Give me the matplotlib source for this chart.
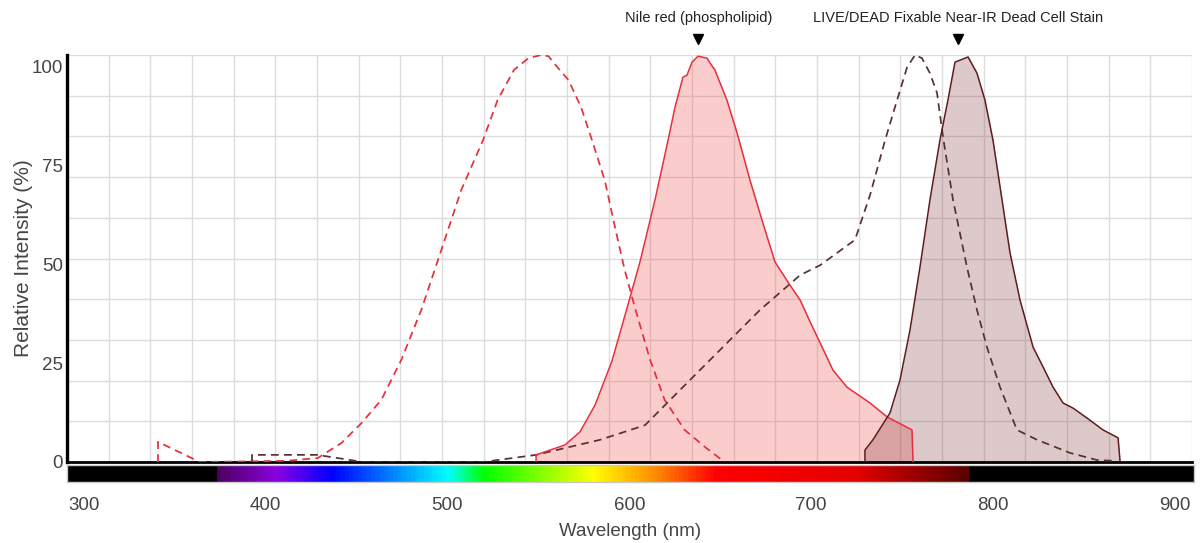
import numpy as np
import matplotlib.pyplot as plt
from matplotlib.colors import LinearSegmentedColormap

plt.rcParams['font.family'] = ['Liberation Sans', 'DejaVu Sans']

# Nile red (phospholipid) excitation, dashed
nile_ex_nm = [341, 341, 364, 412, 429, 442, 453, 464, 475, 486, 497, 508, 520, 528, 537,
              545, 552, 556, 561, 567, 574, 580, 587, 593, 598, 604, 612, 620, 631, 643, 653]
nile_ex_val = [0, 5.1, 0, 0.3, 1.0, 4.8, 9.8, 15.7, 25.8, 38.4, 53.5, 68.7, 81.3, 91.4, 99,
               102, 102.8, 102.5, 99.7, 96.5, 89.6, 81.3, 71.2, 58.6, 48.5, 38.4, 25.8, 15.7, 8.1, 3.5, 0]

# Nile red emission, filled
nile_em_nm = [549.2, 549.2, 565.1, 573.4, 581.7, 591.0, 598.2, 606.4, 614.7, 621.9, 625.7, 630.1,
              632.3, 635.1, 638.4, 643.3, 645.0, 646.6, 647.7, 654.3, 659.9, 667.0, 673.6, 680.8,
              689.0, 694.6, 700.1, 705.6, 712.7, 720.4, 733.1, 742.5, 756.2, 756.8]
nile_em_val = [0, 1.8, 4.3, 7.6, 14.4, 25.5, 37.1, 50.5, 66.2, 81.3, 89.6, 97.2,
               97.7, 101, 102.5, 102, 100.8, 99.7, 99, 91.4, 83.1, 71.2, 61.1, 50.5,
               44.7, 40.9, 35.4, 30.1, 23.2, 18.9, 14.9, 11.4, 8.1, 0]

# LIVE/DEAD Fixable Near-IR excitation, dashed
ld_ex_nm = [392.8, 392.8, 428.6, 453.9, 520, 549.2, 584.4, 609.2, 628.5, 650.5, 672.5, 694.6,
            705.6, 724.8, 733.1, 741.4, 748, 753.5, 757.9, 761.7, 766.1, 770, 773.3, 778.8,
            786.5, 792.0, 797.5, 804.7, 814, 825.1, 843.2, 858.1, 866.9]
ld_ex_val = [0, 1.8, 1.8, 0, 0, 1.8, 5.6, 9.3, 18.2, 28.3, 38.4, 47.2,
             49.7, 56.1, 67.4, 81.3, 91.4, 99.7, 102.8, 102, 98.2, 93.2, 82.1, 66.2,
             49.2, 38.4, 29.0, 18.9, 8.1, 5.6, 2.3, 0.5, 0.3]

# LIVE/DEAD Fixable Near-IR emission, filled
ld_em_nm = [730.3, 730.3, 734.7, 744.1, 749.6, 755.1, 760.6, 766.1, 771.6, 776.0, 779.9, 787.1,
            792.0, 796.4, 800.8, 805.8, 810.2, 815.7, 822.9, 828.4, 833.9, 839.4, 844.9, 852.6,
            861.4, 869.7, 870.8]
ld_em_val = [0, 3.0, 5.6, 12.4, 20.7, 33.3, 49.2, 66.2, 81.3, 91.4, 101, 102.3,
             98.2, 91.4, 81.3, 66.2, 52.8, 40.9, 29.0, 24.0, 18.9, 14.9, 13.6, 11.1,
             8.1, 6.1, 0]

peak_names = ['Nile red (phospholipid)', 'LIVE/DEAD Fixable Near-IR Dead Cell Stain']
peak_nm = [638.5, 781.5]

x_ticks = [300, 400, 500, 600, 700, 800, 900]
y_ticks = [0, 25, 50, 75, 100]

XLO, XHI = 290.9, 910.4
YTOP = 102.8
W, H = 1202, 543

fig = plt.figure(figsize=(W / 100, H / 100), dpi=100)
ax = fig.add_axes([67 / W, 1 - 462 / H, 1125 / W, 407 / H])
ax.set_xlim(XLO, XHI)
ax.set_ylim(0, YTOP)

# square-ish background grid, not tied to tick values
ax.set_xticks(np.linspace(XLO, XHI, 28), minor=True)
ax.set_yticks(np.linspace(0, YTOP, 11), minor=True)
ax.grid(which='minor', color='#dddddd', lw=1)
ax.set_axisbelow(True)
ax.set_xticks([])
ax.set_yticks(y_ticks)
ax.set_yticklabels([str(v) for v in y_ticks])
ax.tick_params(axis='y', which='both', length=0, pad=3, labelsize=13.5, labelcolor='#444444')
ax.tick_params(axis='x', which='both', length=0)

for s in ['top', 'right']:
    ax.spines[s].set_visible(False)
ax.spines['left'].set_linewidth(2.4)
ax.spines['bottom'].set_linewidth(2.0)
ax.spines['left'].set_color('black')
ax.spines['bottom'].set_color('black')

red = '#e5303c'
maroon = '#5e1c1c'
ax.fill_between(nile_em_nm, nile_em_val, color='#f04848', alpha=0.28, lw=0, zorder=1)
ax.fill_between(ld_em_nm, ld_em_val, color='#7a2a2a', alpha=0.25, lw=0, zorder=1)
ax.plot(nile_ex_nm, nile_ex_val, color=red, lw=1.25, ls=(0, (4.5, 3)), zorder=3)
ax.plot(ld_ex_nm, ld_ex_val, color='#5a3030', lw=1.25, ls=(0, (4.5, 3)), zorder=3)
ax.plot(nile_em_nm, nile_em_val, color=red, lw=1.1, zorder=4)
ax.plot(ld_em_nm, ld_em_val, color=maroon, lw=1.1, zorder=4)

for name, nm in zip(peak_names, peak_nm):
    ax.plot([nm], [106.8], marker='v', ms=7, color='black', clip_on=False, zorder=5)
    ax.text(nm, 112.1, name, ha='center', va='center', fontsize=10.5, color='#222222',
            clip_on=False)

ax.set_ylabel('Relative Intensity (%)', fontsize=15, color='#444444', labelpad=-1)

# visible spectrum strip under the axis
stops = [(XLO, (0, 0, 0)), (373, (0, 0, 0)), (373.5, (0.30, 0, 0.38)),
         (405, (0.55, 0, 0.88)), (436, (0, 0, 1)), (500, (0, 1, 1)), (520, (0, 1, 0)),
         (580, (1, 1, 0)), (614, (1, 0.55, 0)), (648, (1, 0, 0)), (725, (0.9, 0, 0)),
         (787, (0.35, 0, 0)), (787.5, (0, 0, 0)), (XHI, (0, 0, 0))]
spec = LinearSegmentedColormap.from_list(
    'spec', [((p - XLO) / (XHI - XLO), c) for p, c in stops])
bax = fig.add_axes([67 / W, 1 - 482 / H, 1127 / W, 17 / H])
bax.imshow(np.linspace(0, 1, 1200)[None, :], extent=[XLO, XHI, 0, 1], aspect='auto', cmap=spec)
bax.set_xlim(XLO, XHI)
bax.set_yticks([])
bax.set_xticks(x_ticks)
bax.set_xticklabels([str(v) for v in x_ticks])
bax.tick_params(axis='x', length=0, pad=11, labelsize=13.5, labelcolor='#444444')
for s in bax.spines.values():
    s.set_color('#c8c8c8')
    s.set_linewidth(1)
bax.set_xlabel('Wavelength (nm)', fontsize=13.5, color='#444444', labelpad=6)

fig.savefig('out.png', dpi=100)
